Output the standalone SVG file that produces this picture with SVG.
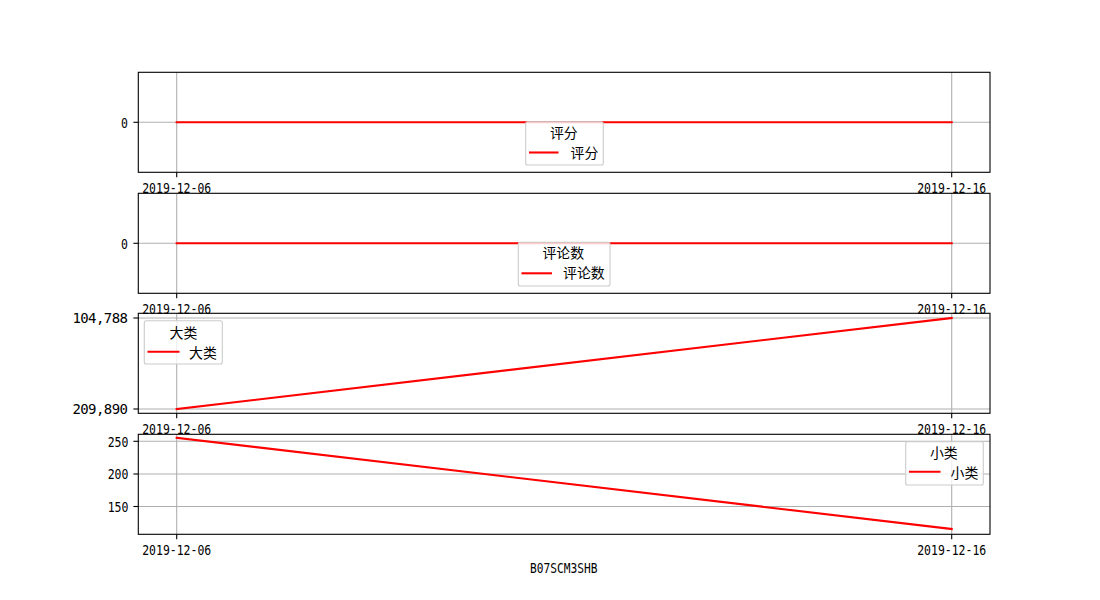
<svg xmlns="http://www.w3.org/2000/svg" width="1100" height="600" viewBox="0 0 1100 600">
<style>
text{font-family:"Noto Sans CJK SC","Liberation Sans",sans-serif;font-size:13.9px;fill:#000}
text.lat{font-family:"DejaVu Sans Mono","Liberation Mono",monospace;font-size:14px}
.grid{stroke:#b0b0b0;stroke-width:1.1;fill:none}
.spine{stroke:#000;stroke-width:1.1;fill:none}
.tick{stroke:#000;stroke-width:1.1}
.data{stroke:#ff0000;stroke-width:2.08;fill:none;stroke-linecap:square}
.leg{fill:#fff;fill-opacity:0.8;stroke:#cccccc;stroke-width:1.1}
.yl{text-anchor:end}
.xl{text-anchor:middle}
</style>
<rect width="1100" height="600" fill="#fff"/>

<g id="panel1">
<line class="grid" x1="176.7" y1="72.3" x2="176.7" y2="172.3"/>
<line class="grid" x1="951.7" y1="72.3" x2="951.7" y2="172.3"/>
<line class="grid" x1="138.3" y1="122.3" x2="990" y2="122.3"/>
<line class="data" x1="176.7" y1="122.3" x2="951.7" y2="122.3"/>
<rect class="spine" x="138.3" y="72.3" width="851.7" height="100"/>
<line class="tick" x1="176.7" y1="172.3" x2="176.7" y2="177.2"/>
<line class="tick" x1="951.7" y1="172.3" x2="951.7" y2="177.2"/>
<line class="tick" x1="133.4" y1="122.3" x2="138.3" y2="122.3"/>
<text class="lat yl" x="128" y="127.6" textLength="6.9" lengthAdjust="spacingAndGlyphs">0</text>
<text class="lat xl" x="176.7" y="192.7" textLength="69" lengthAdjust="spacingAndGlyphs">2019-12-06</text>
<text class="lat xl" x="951.7" y="192.7" textLength="69" lengthAdjust="spacingAndGlyphs">2019-12-16</text>
<g id="legend1">
<rect class="leg" x="525.7" y="121.7" width="77.6" height="43.3" rx="2"/>
<text class="xl" x="563.8" y="138.3">评分</text>
<line class="data" x1="530" y1="152.5" x2="557.5" y2="152.5" stroke-linecap="butt"/>
<text x="570.5" y="158.3">评分</text>
</g>
</g>

<g id="panel2">
<line class="grid" x1="176.7" y1="193.3" x2="176.7" y2="293.3"/>
<line class="grid" x1="951.7" y1="193.3" x2="951.7" y2="293.3"/>
<line class="grid" x1="138.3" y1="243.3" x2="990" y2="243.3"/>
<line class="data" x1="176.7" y1="243.3" x2="951.7" y2="243.3"/>
<rect class="spine" x="138.3" y="193.3" width="851.7" height="100"/>
<line class="tick" x1="176.7" y1="293.3" x2="176.7" y2="298.2"/>
<line class="tick" x1="951.7" y1="293.3" x2="951.7" y2="298.2"/>
<line class="tick" x1="133.4" y1="243.3" x2="138.3" y2="243.3"/>
<text class="lat yl" x="128" y="248.6" textLength="6.9" lengthAdjust="spacingAndGlyphs">0</text>
<text class="lat xl" x="176.7" y="313.7" textLength="69" lengthAdjust="spacingAndGlyphs">2019-12-06</text>
<text class="lat xl" x="951.7" y="313.7" textLength="69" lengthAdjust="spacingAndGlyphs">2019-12-16</text>
<g id="legend2">
<rect class="leg" x="518.3" y="242.3" width="91.7" height="43.7" rx="2"/>
<text class="xl" x="563.3" y="258.3">评论数</text>
<line class="data" x1="522.5" y1="273.3" x2="551" y2="273.3" stroke-linecap="butt"/>
<text x="563" y="277.8">评论数</text>
</g>
</g>

<g id="panel3">
<line class="grid" x1="176.7" y1="313.3" x2="176.7" y2="413.3"/>
<line class="grid" x1="951.7" y1="313.3" x2="951.7" y2="413.3"/>
<line class="grid" x1="138.3" y1="318" x2="990" y2="318"/>
<line class="grid" x1="138.3" y1="409" x2="990" y2="409"/>
<line class="data" x1="176.7" y1="409" x2="951.7" y2="318"/>
<rect class="spine" x="138.3" y="313.3" width="851.7" height="100"/>
<line class="tick" x1="176.7" y1="413.3" x2="176.7" y2="418.2"/>
<line class="tick" x1="951.7" y1="413.3" x2="951.7" y2="418.2"/>
<line class="tick" x1="133.4" y1="318" x2="138.3" y2="318"/>
<line class="tick" x1="133.4" y1="409" x2="138.3" y2="409"/>
<text class="lat yl" x="128" y="323.3" textLength="55.6" lengthAdjust="spacing">104,788</text>
<text class="lat yl" x="128" y="414.3" textLength="55.6" lengthAdjust="spacing">209,890</text>
<text class="lat xl" x="176.7" y="433.7" textLength="69" lengthAdjust="spacingAndGlyphs">2019-12-06</text>
<text class="lat xl" x="951.7" y="433.7" textLength="69" lengthAdjust="spacingAndGlyphs">2019-12-16</text>
<g id="legend3">
<rect class="leg" x="144.3" y="320.7" width="78" height="43.3" rx="2"/>
<text class="xl" x="183.5" y="338">大类</text>
<line class="data" x1="148.5" y1="351.7" x2="178.5" y2="351.7" stroke-linecap="butt"/>
<text x="189" y="357.8">大类</text>
</g>
</g>

<g id="panel4">
<line class="grid" x1="176.7" y1="434.3" x2="176.7" y2="534.3"/>
<line class="grid" x1="951.7" y1="434.3" x2="951.7" y2="534.3"/>
<line class="grid" x1="138.3" y1="441.3" x2="990" y2="441.3"/>
<line class="grid" x1="138.3" y1="474" x2="990" y2="474"/>
<line class="grid" x1="138.3" y1="506.5" x2="990" y2="506.5"/>
<line class="data" x1="176.7" y1="437.8" x2="951.7" y2="529"/>
<rect class="spine" x="138.3" y="434.3" width="851.7" height="100"/>
<line class="tick" x1="176.7" y1="534.3" x2="176.7" y2="539.2"/>
<line class="tick" x1="951.7" y1="534.3" x2="951.7" y2="539.2"/>
<line class="tick" x1="133.4" y1="441.3" x2="138.3" y2="441.3"/>
<line class="tick" x1="133.4" y1="474" x2="138.3" y2="474"/>
<line class="tick" x1="133.4" y1="506.5" x2="138.3" y2="506.5"/>
<text class="lat yl" x="128.5" y="446.6" textLength="20.8" lengthAdjust="spacingAndGlyphs">250</text>
<text class="lat yl" x="128.5" y="479.3" textLength="20.8" lengthAdjust="spacingAndGlyphs">200</text>
<text class="lat yl" x="128.5" y="511.8" textLength="20.8" lengthAdjust="spacingAndGlyphs">150</text>
<text class="lat xl" x="176.7" y="554.5" textLength="69" lengthAdjust="spacingAndGlyphs">2019-12-06</text>
<text class="lat xl" x="951.7" y="554.5" textLength="69" lengthAdjust="spacingAndGlyphs">2019-12-16</text>
<g id="legend4">
<rect class="leg" x="905.7" y="441.7" width="77.6" height="43.3" rx="2"/>
<text class="xl" x="943.8" y="458.3">小类</text>
<line class="data" x1="910" y1="471.7" x2="939.5" y2="471.7" stroke-linecap="butt"/>
<text x="950.5" y="478">小类</text>
</g>
</g>

<text id="xlabel" class="lat xl" x="563.7" y="573" textLength="67.5" lengthAdjust="spacingAndGlyphs">B07SCM3SHB</text>
</svg>
